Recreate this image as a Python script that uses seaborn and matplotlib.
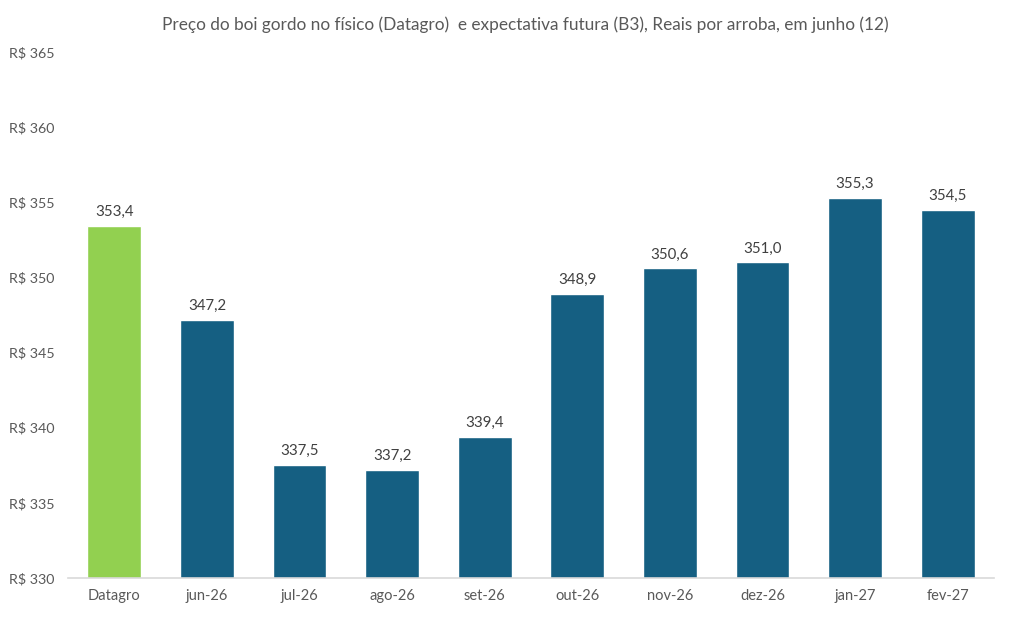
import numpy as np
import pandas as pd
import matplotlib
matplotlib.use('Agg')
import matplotlib.pyplot as plt
import seaborn as sns

categorias = ['Datagro', 'jun-26', 'jul-26', 'ago-26', 'set-26', 'out-26',
              'nov-26', 'dez-26', 'jan-27', 'fev-27']
precos = [353.4, 347.2, 337.5, 337.2, 339.4, 348.9, 350.6, 351.0, 355.3, 354.5]
cores = ['#92D050'] + ['#155F82'] * 9
y_ticks = [330, 335, 340, 345, 350, 355, 360, 365]

sns.set_style('white')
plt.rcParams['font.family'] = ['Lato', 'DejaVu Sans']
cinza = '#595959'

df = pd.DataFrame({'categoria': categorias, 'preco': precos})

fig = plt.figure(figsize=(10.11, 6.29), dpi=100)
ax = fig.add_axes([68 / 1011, (629 - 578) / 629, (994 - 68) / 1011, (578 - 52) / 629])

sns.barplot(data=df, x='categoria', y='preco', hue='categoria', palette=cores,
            legend=False, width=0.58, ax=ax, saturation=1)

ax.set_ylim(330, 365)
ax.set_yticks(y_ticks)
ax.set_yticklabels([f'R$ {v}' for v in y_ticks], color=cinza, fontsize=10.3)
ax.tick_params(axis='y', length=0, pad=9.5)
ax.tick_params(axis='x', length=0, pad=8, labelsize=10.5, labelcolor=cinza)
ax.set_xlim(-0.5, len(categorias) - 0.5)
ax.set_xticks(np.arange(-0.5, len(categorias)), minor=True)
ax.tick_params(axis='x', which='minor', length=6, color='#D9D9D9', width=1)
ax.set_xlabel('')
ax.set_ylabel('')

for s in ['top', 'right', 'left']:
    ax.spines[s].set_visible(False)
ax.spines['bottom'].set_color('#D9D9D9')
ax.spines['bottom'].set_linewidth(1.2)

for i, v in enumerate(precos):
    ax.annotate(f'{v:.1f}'.replace('.', ','), (i, v), xytext=(0, 5),
                textcoords='offset points', ha='center', va='bottom',
                fontsize=10.8, color='#404040')

fig.text(525 / 1011, 1 - 25 / 629,
         'Preço do boi gordo no físico (Datagro)  e expectativa futura (B3), Reais por arroba, em junho (12)',
         ha='center', va='center', fontsize=12.4, color=cinza)

fig.savefig('out.png', dpi=100)
